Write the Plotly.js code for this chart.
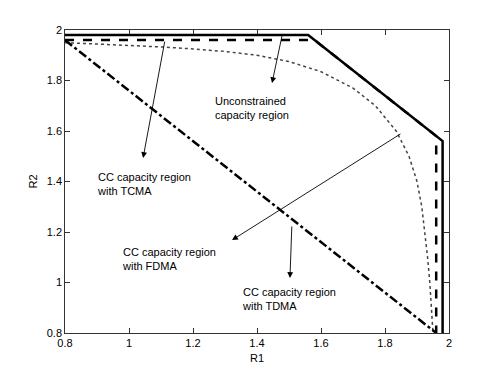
<!DOCTYPE html>
<html>
<head>
<meta charset="utf-8">
<script src="https://cdn.plot.ly/plotly-3.0.1.min.js"></script>
<style>
  html, body { margin: 0; padding: 0; background: #fff; }
  #chart { width: 498px; height: 375px; }
</style>
</head>
<body>
<div id="chart"></div>
<script>
// unconstrained region (solid)
const unconR1 = [0.8, 1.56, 1.98, 1.98];
const unconR2 = [1.98, 1.98, 1.56, 0.8];

// TCMA (dashed)
const tcmaR1 = [0.8, 1.58, 1.96, 1.96];
const tcmaR2 = [1.96, 1.96, 1.58, 0.8];

// FDMA (dotted curve)
const fdmaR1 = [0.8, 0.9, 1.0, 1.1, 1.2, 1.3, 1.4, 1.5, 1.6, 1.7, 1.77,
                1.835, 1.875, 1.9, 1.915, 1.925, 1.933, 1.94, 1.945, 1.95];
const fdmaR2 = [1.95, 1.945, 1.94, 1.933, 1.925, 1.915, 1.9, 1.875, 1.835, 1.77, 1.70,
                1.6, 1.5, 1.4, 1.3, 1.2, 1.1, 1.0, 0.9, 0.8];

// TDMA (dash-dot)
const tdmaR1 = [0.8, 1.96];
const tdmaR2 = [1.96, 0.8];

const tickVals = [0.8, 1, 1.2, 1.4, 1.6, 1.8, 2];
const tickText = ['0.8', '1', '1.2', '1.4', '1.6', '1.8', '2'];

// labels: text, position, arrow tail -> head
const labelText = ['Unconstrained<br>capacity region', 'CC capacity region<br>with TCMA',
                   'CC capacity region<br>with FDMA', 'CC capacity region<br>with TDMA'];
const labelR1 = [1.2625, 0.894, 0.972, 1.347];
const labelR2 = [1.691, 1.390, 1.093, 0.935];
const tailR1 = [1.48, 1.1125, 1.853, 1.509];
const tailR2 = [1.988, 1.96, 1.592, 1.228];
const headR1 = [1.447, 1.044, 1.322, 1.503];
const headR2 = [1.79, 1.493, 1.168, 1.018];

function drawChart() {
    const chartDiv = document.getElementById("chart");
    const font = { family: 'Liberation Sans, Arial, sans-serif', size: 11, color: '#000' };

    const annotations = [];
    for (let i = 0; i < labelText.length; i++) {
        annotations.push({
            x: headR1[i], y: headR2[i], ax: tailR1[i], ay: tailR2[i],
            xref: 'x', yref: 'y', axref: 'x', ayref: 'y',
            text: '', showarrow: true, arrowhead: 2, arrowsize: 1.3,
            arrowwidth: 0.9, arrowcolor: '#000'
        });
        annotations.push({
            x: labelR1[i], y: labelR2[i], xref: 'x', yref: 'y',
            text: labelText[i], showarrow: false, align: 'left',
            xanchor: 'left', yanchor: 'middle', font: font
        });
    }

    const axisBase = {
        range: [0.8, 2], tickvals: tickVals, ticktext: tickText,
        ticks: 'inside', ticklen: 5, tickcolor: '#000', tickwidth: 0.8,
        showline: true, linecolor: '#000', linewidth: 0.8, mirror: 'ticks',
        showgrid: false, zeroline: false, tickfont: font
    };

    Plotly.newPlot(chartDiv, [
        { x: unconR1, y: unconR2, mode: 'lines', name: 'Unconstrained',
          line: { color: '#000', width: 2.5 } },
        { x: tcmaR1, y: tcmaR2, mode: 'lines', name: 'TCMA',
          line: { color: '#000', width: 2.5, dash: 'dash' } },
        { x: fdmaR1, y: fdmaR2, mode: 'lines', name: 'FDMA',
          line: { color: '#444', width: 1.5, dash: 'dot' } },
        { x: tdmaR1, y: tdmaR2, mode: 'lines', name: 'TDMA',
          line: { color: '#000', width: 2.5, dash: 'dashdot' } }
    ], {
        width: 498, height: 375,
        margin: { l: 65, r: 49, t: 30, b: 42 },
        paper_bgcolor: '#fff', plot_bgcolor: '#fff',
        showlegend: false,
        font: font,
        xaxis: Object.assign({}, axisBase, {
            title: { text: 'R1', font: font, standoff: 6 }
        }),
        yaxis: Object.assign({}, axisBase, {
            title: { text: 'R2', font: font, standoff: 6 }
        }),
        annotations: annotations
    }, { staticPlot: true });
}

window.addEventListener("load", drawChart);
</script>
</body>
</html>
